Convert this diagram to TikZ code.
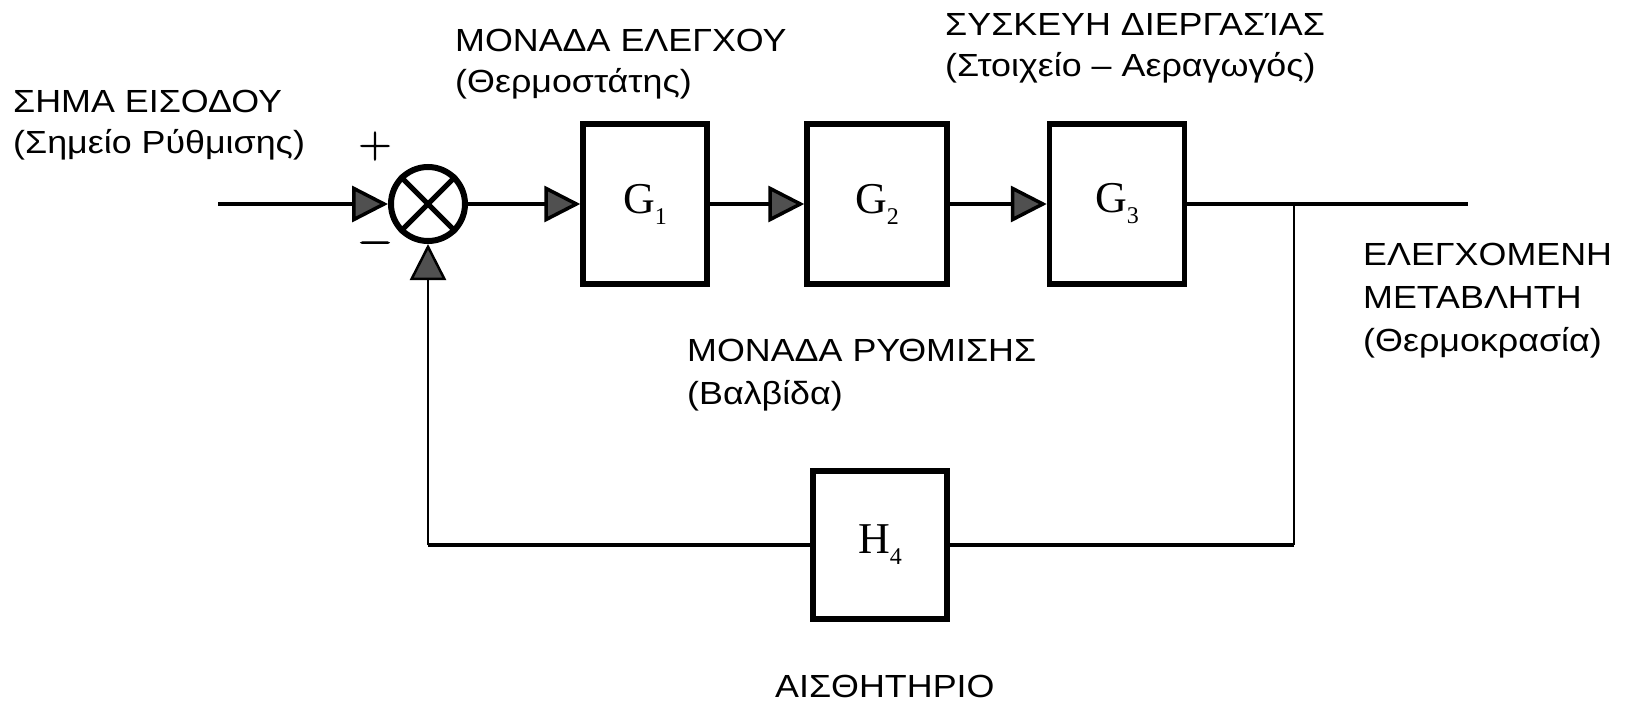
\documentclass[tikz,border=0pt]{standalone}
\usepackage{fontspec}
\setmainfont[FakeStretch=1.12]{Liberation Sans}
\newfontfamily\signfont[FakeBold=1.5]{Latin Modern Roman}
\newfontfamily\blockfont{Liberation Serif}
\usetikzlibrary{arrows.meta, positioning, calc}
\definecolor{inkgray}{RGB}{80, 80, 80}
\newcommand{\blocklbl}[2]{#1\raisebox{-11pt}{\fontsize{24}{24}\selectfont #2}}
\tikzset{
  sigline/.style={line width=3.5pt},
  thinline/.style={line width=2.5pt},
  sigtip/.style={-{Triangle[length=36pt, width=36pt, fill=inkgray]}},
  sigarrow/.style={sigline, sigtip},
  blockbox/.style={draw, line width=5.5pt, minimum width=128pt, minimum height=160pt, inner sep=0pt, font=\blockfont\fontsize{44}{44}\selectfont},
  lbl/.style={align=left, inner sep=0pt, font=\fontsize{32}{41}\selectfont},
  signlbl/.style={inner sep=0pt, font=\signfont\fontsize{46}{46}\selectfont}
}

\begin{document}
\begin{tikzpicture}[x=1pt, y=-1pt]
    \useasboundingbox (0,0) rectangle (1632,701);

    % --- SUMMING POINT ---
    \node[circle, draw, line width=6pt, minimum size=74pt, inner sep=0pt] (sum) at (428, 204) {};
    \draw[line width=5pt] (sum.north west) -- (sum.south east);
    \draw[line width=5pt] (sum.north east) -- (sum.south west);
    \node[signlbl] (plus) at (375, 146) {+};
    \node[signlbl] (minus) at (375, 248) {−};

    % --- FORWARD PATH ---
    \node[blockbox, minimum width=124pt] (g1) at (645, 204) {\blocklbl{G}{1}};
    \node[blockbox, minimum width=140pt] (g2) at (877, 204) {\blocklbl{G}{2}};
    \node[blockbox, minimum width=135pt] (g3) at (1117, 204) {\blocklbl{G}{3}};

    % --- FEEDBACK PATH ---
    \node[blockbox, minimum width=134pt, minimum height=148pt] (h4) at (880, 545) {\blocklbl{H}{4}};

    \coordinate (inp) at (218, 204);
    \coordinate (outp) at (1468, 204);
    \coordinate (branch) at (1294, 204);
    \coordinate (fbcorner) at (428, 545);

    % signal flow
    \draw[sigarrow] (inp) -- (sum.west);
    \draw[sigarrow] (sum.east) -- (g1.west);
    \draw[sigarrow] (g1.east) -- (g2.west);
    \draw[sigarrow] (g2.east) -- (g3.west);
    \draw[sigline] (g3.east) -- (outp);
    \draw[thinline] (branch) -- (branch |- h4.east);
    \draw[sigline] (branch |- h4.east) -- (h4.east);
    \draw[sigline] (h4.west) -- (fbcorner);
    \draw[thinline, sigtip] (fbcorner) -- (sum.south);

    % --- LABELS ---
    \node[lbl, anchor=west] (inlbl) at (13, 125) {ΣΗΜΑ ΕΙΣΟΔΟΥ\\(Σημείο Ρύθμισης)};
    \node[lbl, anchor=west] (ctrllbl) at (455, 64) {ΜΟΝΑΔΑ ΕΛΕΓΧΟΥ\\(Θερμοστάτης)};
    \node[lbl, anchor=west] (proclbl) at (945, 48) {ΣΥΣΚΕΥΗ ΔΙΕΡΓΑΣΊΑΣ\\(Στοιχείο – Αεραγωγός)};
    \node[lbl, anchor=west, font=\fontsize{32}{43}\selectfont] (outlbl) at (1363, 301) {ΕΛΕΓΧΟΜΕΝΗ\\ΜΕΤΑΒΛΗΤΗ\\(Θερμοκρασία)};
    \node[lbl, anchor=west, font=\fontsize{32}{43}\selectfont] (actlbl) at (687, 375) {ΜΟΝΑΔΑ ΡΥΘΜΙΣΗΣ\\(Βαλβίδα)};
    \node[lbl, anchor=base west] (senslbl) at (775, 697) {ΑΙΣΘΗΤΗΡΙΟ};
\end{tikzpicture}
\end{document}
